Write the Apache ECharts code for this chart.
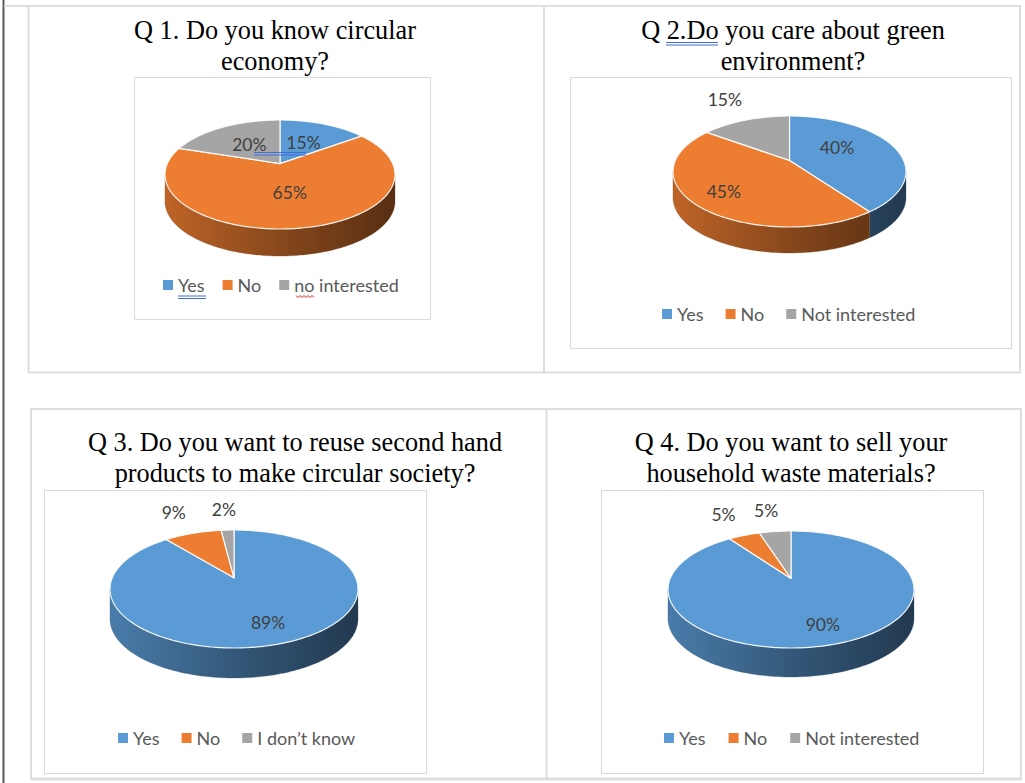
<!DOCTYPE html>
<html>
<head>
<meta charset="utf-8">
<script src="https://cdn.jsdelivr.net/npm/echarts@6/dist/echarts.min.js"></script>
<style>
  html, body { margin: 0; padding: 0; background: #ffffff; }
  #main { width: 1025px; height: 783px; }
</style>
</head>
<body>
<div id="main"></div>
<script>
// Survey answers (percent of respondents)
const q1Title = 'Q 1. Do you know circular\neconomy?';
const q1Categories = ['Yes', 'No', 'no interested'];
const q1Values = [15, 65, 20];

const q2Title = 'Q 2.Do you care about green\nenvironment?';
const q2Categories = ['Yes', 'No', 'Not interested'];
const q2Values = [40, 45, 15];

const q3Title = 'Q 3. Do you want to reuse second hand\nproducts to make circular society?';
const q3Categories = ['Yes', 'No', 'I don’t know'];
const q3Values = [89, 9, 2];

const q4Title = 'Q 4. Do you want to sell your\nhousehold waste materials?';
const q4Categories = ['Yes', 'No', 'Not interested'];
const q4Values = [90, 5, 5];

const sliceColors = ['#5B9BD5', '#ED7D31', '#A5A5A5'];

// Page layout of the four answer panels
const panels = [
  { title: q1Title, categories: q1Categories, values: q1Values,
    titleX: 275, titleTop: 15,
    box: [134, 77, 296, 242],
    pie: { cx: 280, cy: 174.5, rx: 115, ry: 54.5, depth: 27, tilt: -0.2 },
    labelRadius: [0.5, 0.5, 0.5], labelShiftY: [0, 0, 0], outside: [false, false, false],
    legendLeft: 163, legendTop: 276, legendGap: 18 },
  { title: q2Title, categories: q2Categories, values: q2Values,
    titleX: 793, titleTop: 15,
    box: [570, 77, 441, 271],
    pie: { cx: 789.5, cy: 171.5, rx: 116.5, ry: 55.5, depth: 26, tilt: -0.2 },
    labelRadius: [0.45, 0.73, 0.6], labelShiftY: [-6, 0, 0], outside: [false, false, true],
    legendLeft: 662, legendTop: 305, legendGap: 22 },
  { title: q3Title, categories: q3Categories, values: q3Values,
    titleX: 295, titleTop: 427,
    box: [44, 490, 382, 283],
    pie: { cx: 234, cy: 589, rx: 124, ry: 59, depth: 30, tilt: -0.19 },
    labelRadius: [0.72, 0.6, 0.6], labelShiftY: [0, 0, 0], outside: [false, true, true],
    legendLeft: 118, legendTop: 729, legendGap: 22 },
  { title: q4Title, categories: q4Categories, values: q4Values,
    titleX: 791, titleTop: 427,
    box: [601, 490, 382, 283],
    pie: { cx: 791, cy: 589.5, rx: 123, ry: 58.5, depth: 29, tilt: -0.19 },
    labelRadius: [0.74, 0.6, 0.6], labelShiftY: [0, 0, 0], outside: [false, true, true],
    legendLeft: 664, legendTop: 729, legendGap: 23 }
];

// Tilted-disc projection: r in [0,1], theta clockwise from the far side
function projector(p) {
  const c = Math.sqrt(1 - p.tilt * p.tilt);
  return function (r, theta, dz) {
    const u = r * Math.sin(theta);
    const v = -r * Math.cos(theta);
    const w = 1 + p.tilt * v;
    return [p.cx + p.rx * c * u / w, p.cy + p.ry * (v + p.tilt) / w + (dz || 0)];
  };
}

function shade(hex, k) {
  const n = parseInt(hex.slice(1), 16);
  const r = Math.round(((n >> 16) & 255) * k);
  const g = Math.round(((n >> 8) & 255) * k);
  const b = Math.round((n & 255) * k);
  return 'rgb(' + r + ',' + g + ',' + b + ')';
}

function sum(arr) { return arr.reduce((a, b) => a + b, 0); }

function arcPoints(proj, r, t0, t1, dz) {
  const n = Math.max(2, Math.ceil((t1 - t0) / (Math.PI / 180)));
  const pts = [];
  for (let k = 0; k <= n; k++) {
    pts.push(proj(r, t0 + (t1 - t0) * k / n, dz));
  }
  return pts;
}

const series = [];
const titles = [];
const legends = [];

panels.forEach(function (panel, pi) {
  const p = panel.pie;
  const proj = projector(p);
  const total = sum(panel.values);
  const wallFrom = Math.acos(p.tilt);
  const wallTo = 2 * Math.PI - wallFrom;

  titles.push({
    text: panel.title,
    left: panel.titleX,
    top: panel.titleTop,
    padding: 0,
    textAlign: 'center',
    textStyle: {
      fontFamily: 'Liberation Serif',
      fontSize: 26.3,
      fontWeight: 'normal',
      color: '#000000',
      lineHeight: 31
    }
  });

  legends.push({
    data: panel.categories,
    left: panel.legendLeft,
    top: panel.legendTop,
    padding: 0,
    orient: 'horizontal',
    icon: 'rect',
    itemWidth: 10,
    itemHeight: 10,
    itemGap: panel.legendGap,
    selectedMode: false,
    textStyle: { fontFamily: 'Lato', fontSize: 18, color: '#595959' }
  });

  // One series per answer: top face plus the visible part of the rim wall
  panel.categories.forEach(function (cat, ci) {
    const color = sliceColors[ci];
    series.push({
      type: 'custom',
      name: cat,
      coordinateSystem: 'none',
      silent: true,
      z: 2,
      itemStyle: { color: color },
      data: [panel.values[ci]],
      renderItem: function (params, api) {
        const value = api.value(0);
        const before = sum(panel.values.slice(0, ci));
        const t0 = before / total * 2 * Math.PI;
        const t1 = (before + value) / total * 2 * Math.PI;
        const children = [];
        const a = Math.max(t0, wallFrom);
        const b = Math.min(t1, wallTo);
        if (a < b) {
          const topArc = arcPoints(proj, 1, a, b, 0);
          const bottomArc = arcPoints(proj, 1, a, b, p.depth).reverse();
          children.push({
            type: 'polygon',
            shape: { points: topArc.concat(bottomArc) },
            style: {
              fill: new echarts.graphic.LinearGradient(
                p.cx - p.rx, 0, p.cx + p.rx, 0,
                [{ offset: 0, color: shade(color, 0.8) },
                 { offset: 0.55, color: shade(color, 0.55) },
                 { offset: 1, color: shade(color, 0.37) }],
                true),
              stroke: shade(color, 0.5),
              lineWidth: 0.3
            }
          });
        }
        const face = [proj(0, 0, 0)].concat(arcPoints(proj, 1, t0, t1, 0));
        children.push({
          type: 'polygon',
          shape: { points: face },
          style: { fill: color, stroke: 'rgba(255,255,255,0.9)', lineWidth: 1.2, lineJoin: 'round' }
        });
        return { type: 'group', children: children };
      }
    });
  });

  // Percentage labels drawn above the slices
  series.push({
    type: 'custom',
    name: 'labels-' + (pi + 1),
    coordinateSystem: 'none',
    silent: true,
    z: 5,
    data: panel.values,
    renderItem: function (params, api) {
      const i = params.dataIndex;
      const value = api.value(0);
      const before = sum(panel.values.slice(0, i));
      const mid = (before + value / 2) / total * 2 * Math.PI;
      let pos;
      if (panel.outside[i]) {
        const rim = proj(1, mid, 0);
        const apex = proj(0, 0, 0);
        const dx = rim[0] - apex[0], dy = rim[1] - apex[1];
        const len = Math.sqrt(dx * dx + dy * dy);
        pos = [rim[0] + dx / len * 28, rim[1] - 21];
      } else {
        pos = proj(panel.labelRadius[i], mid, 0);
        pos[1] += panel.labelShiftY[i];
      }
      return {
        type: 'text',
        x: pos[0],
        y: pos[1],
        style: {
          text: value + '%',
          fill: '#404040',
          font: '17.5px Lato',
          align: 'center',
          verticalAlign: 'middle'
        }
      };
    }
  });
});

// Table rules and chart frames of the page
const frameColor = '#dedede';
const graphics = [
  { type: 'line', shape: { x1: 3.5, y1: 0, x2: 3.5, y2: 783 }, style: { stroke: '#5a5a5a', lineWidth: 2 } },
  { type: 'line', shape: { x1: 4, y1: 6, x2: 1021, y2: 6 }, style: { stroke: frameColor, lineWidth: 2 } },
  { type: 'line', shape: { x1: 28.5, y1: 6, x2: 28.5, y2: 372 }, style: { stroke: frameColor, lineWidth: 2 } },
  { type: 'line', shape: { x1: 544, y1: 6, x2: 544, y2: 372 }, style: { stroke: frameColor, lineWidth: 2 } },
  { type: 'line', shape: { x1: 1020, y1: 6, x2: 1020, y2: 372 }, style: { stroke: frameColor, lineWidth: 2 } },
  { type: 'line', shape: { x1: 28, y1: 372.5, x2: 1021, y2: 372.5 }, style: { stroke: frameColor, lineWidth: 2 } },
  { type: 'line', shape: { x1: 30, y1: 409, x2: 1022, y2: 409 }, style: { stroke: frameColor, lineWidth: 2 } },
  { type: 'line', shape: { x1: 31, y1: 409, x2: 31, y2: 779 }, style: { stroke: frameColor, lineWidth: 2 } },
  { type: 'line', shape: { x1: 546.5, y1: 409, x2: 546.5, y2: 779 }, style: { stroke: frameColor, lineWidth: 2 } },
  { type: 'line', shape: { x1: 1021, y1: 409, x2: 1021, y2: 779 }, style: { stroke: frameColor, lineWidth: 2 } },
  { type: 'line', shape: { x1: 30, y1: 779, x2: 1022, y2: 779 }, style: { stroke: frameColor, lineWidth: 3 } }
];
panels.forEach(function (panel) {
  graphics.push({
    type: 'rect',
    shape: { x: panel.box[0] + 0.5, y: panel.box[1] + 0.5, width: panel.box[2], height: panel.box[3] },
    style: { fill: 'none', stroke: '#d9d9d9', lineWidth: 1 }
  });
});
// Proofing marks of the word processor
const proofBlue = '#3f6fd8';
function doubleUnderline(x1, x2, y) {
  return [
    { type: 'line', z: 100, shape: { x1: x1, y1: y, x2: x2, y2: y }, style: { stroke: proofBlue, lineWidth: 1 } },
    { type: 'line', z: 100, shape: { x1: x1, y1: y + 2.5, x2: x2, y2: y + 2.5 }, style: { stroke: proofBlue, lineWidth: 1 } }
  ];
}
function squiggle(x1, x2, y) {
  const pts = [];
  for (let x = x1, k = 0; x <= x2; x += 2, k++) pts.push([x, y + (k % 2 ? 2 : 0)]);
  return { type: 'polyline', z: 100, shape: { points: pts }, style: { stroke: '#e02020', lineWidth: 1, fill: null } };
}
graphics.push.apply(graphics, doubleUnderline(254, 306, 152.5));
graphics.push.apply(graphics, doubleUnderline(178, 206, 296));
graphics.push(squiggle(296, 314, 295.5));
graphics.push.apply(graphics, doubleUnderline(666, 718, 42.5));

const chart = echarts.init(document.getElementById('main'), null, { renderer: 'svg' });
chart.setOption({
  backgroundColor: '#ffffff',
  animation: false,
  title: titles,
  legend: legends,
  graphic: { elements: graphics },
  series: series
});
</script>
</body>
</html>
